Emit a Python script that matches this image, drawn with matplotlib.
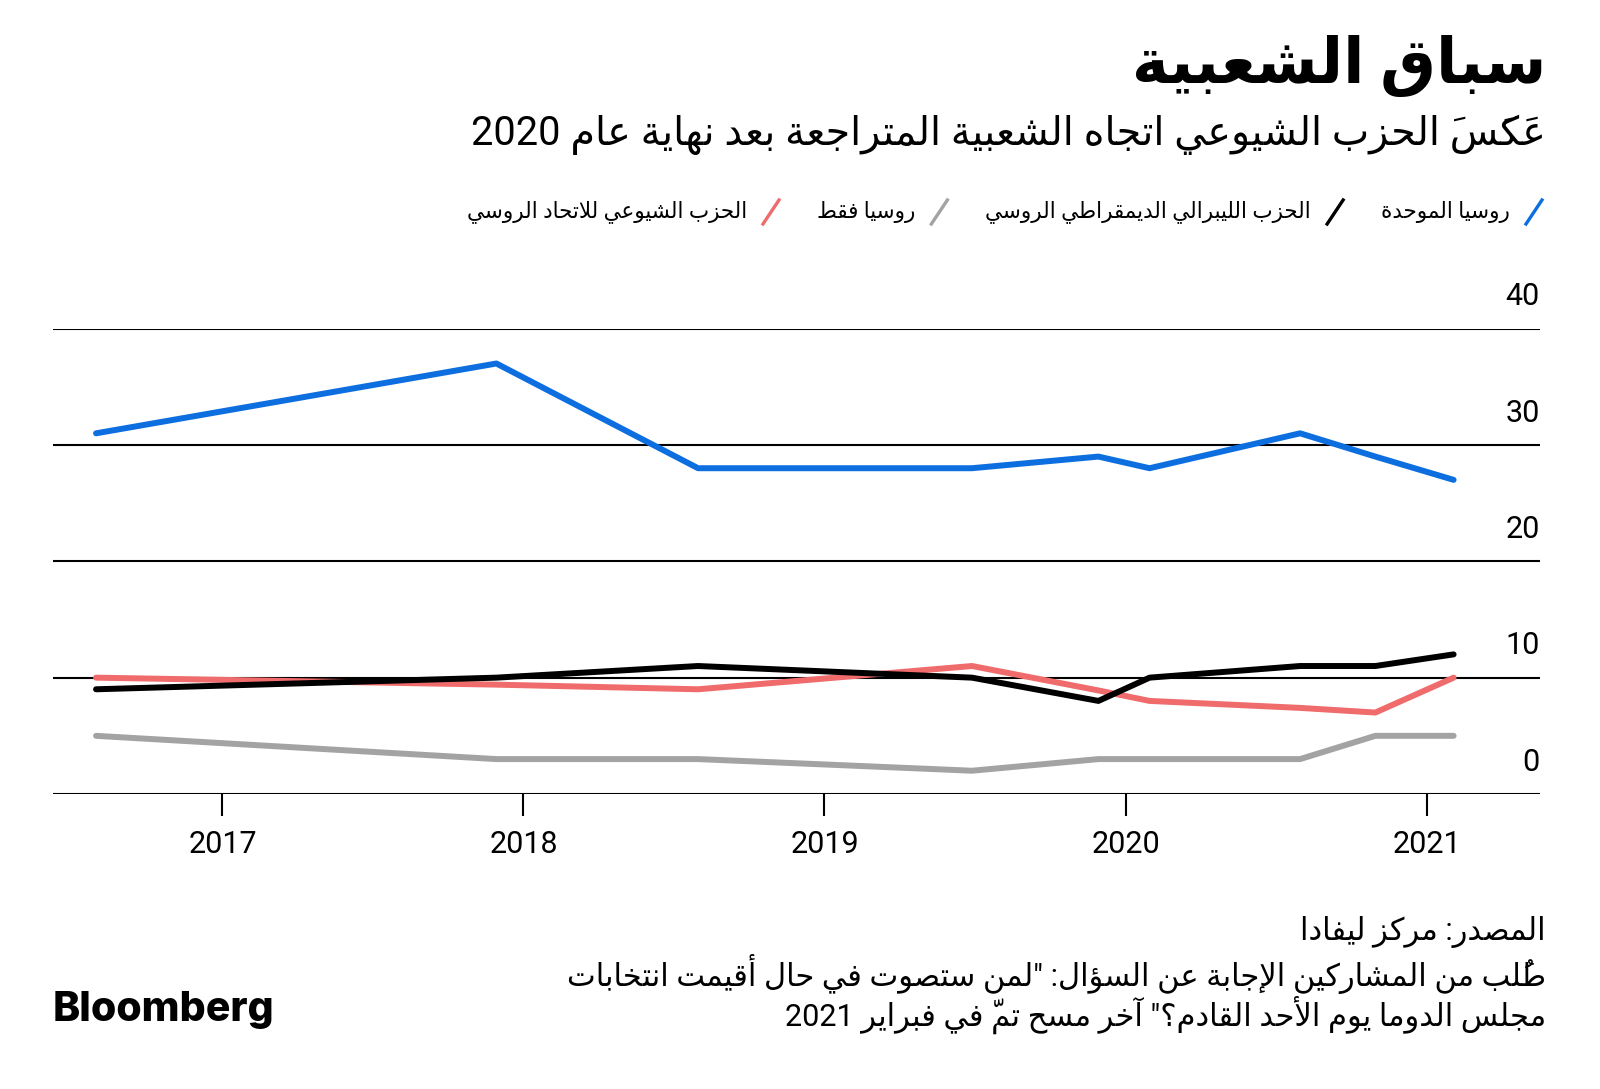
import unicodedata

import matplotlib
matplotlib.use("Agg")
import matplotlib.pyplot as plt
from matplotlib.lines import Line2D

plt.rcParams["font.family"] = ["Roboto", "DejaVu Sans"]

# survey dates (decimal years) and party shares, %
dates = [2016.58, 2017.91, 2018.58, 2019.49, 2019.91, 2020.08, 2020.58, 2020.83, 2021.09]
united_russia = [31, 37, 28, 28, 29, 28, 31, 29, 27]
ldpr = [9, 10, 11, 10, 8, 10, 11, 11, 12]
just_russia = [5, 3, 3, 2, 3, 3, 3, 5, 5]
kprf = [10, 9.4, 9, 11, 8.9, 8, 7.4, 7, 10]

year_ticks = [2017, 2018, 2019, 2020, 2021]
year_labels = ["2017", "2018", "2019", "2020", "2021"]
y_ticks = [0, 10, 20, 30, 40]

title = "سباق الشعبية"
subtitle = "عَكَسَ الحزب الشيوعي اتجاه الشعبية المتراجعة بعد نهاية عام 2020"
legend_items = [
    ("روسيا الموحدة", "#0d6fdf"),
    ("الحزب الليبرالي الديمقراطي الروسي", "#000000"),
    ("روسيا فقط", "#a3a3a3"),
    ("الحزب الشيوعي للاتحاد الروسي", "#f06b6b"),
]
footer = [
    "المصدر: مركز ليفادا",
    "طُلب من المشاركين الإجابة عن السؤال: \"لمن ستصوت في حال أقيمت انتخابات",
    "مجلس الدوما يوم الأحد القادم؟\" آخر مسح تمّ في فبراير 2021",
]


# --- minimal arabic shaping + right-to-left ordering (matplotlib has none) ---
LAM_ALEF = {
    "\u0627": "ARABIC LIGATURE LAM WITH ALEF",
    "\u0623": "ARABIC LIGATURE LAM WITH ALEF WITH HAMZA ABOVE",
    "\u0625": "ARABIC LIGATURE LAM WITH ALEF WITH HAMZA BELOW",
    "\u0622": "ARABIC LIGATURE LAM WITH ALEF WITH MADDA ABOVE",
}


def _pres(name, form):
    try:
        return unicodedata.lookup(f"{name} {form} FORM")
    except KeyError:
        return None


def ar(text):
    units = []
    for ch in text:
        if unicodedata.category(ch) == "Mn" and units:
            units[-1][2] += ch
            continue
        if ch in LAM_ALEF and units and units[-1][1] == "\u0644":
            units[-1] = [LAM_ALEF[ch], ch, units[-1][2]]
            continue
        name = unicodedata.name(ch, "") if "\u0600" <= ch <= "\u06ff" else None
        units.append([name, ch, ""])

    types = []
    for name, ch, marks in units:
        if name and _pres(name, "INITIAL"):
            types.append("D")
        elif name and _pres(name, "FINAL"):
            types.append("R")
        else:
            types.append("U")

    clusters = []
    for i, (name, ch, marks) in enumerate(units):
        t = types[i]
        if t == "U":
            clusters.append(marks + ch)
            continue
        prev = i > 0 and types[i - 1] == "D"
        nxt = t == "D" and i + 1 < len(units) and types[i + 1] in "DR"
        form = {(True, True): "MEDIAL", (True, False): "FINAL",
                (False, True): "INITIAL", (False, False): "ISOLATED"}[(prev, nxt)]
        # marks go first: matplotlib draws them at the pen position over the next glyph
        clusters.append(marks + _pres(name, form))

    runs = []
    for c in clusters:
        ltr = c[-1].isascii() and c[-1].isalnum()
        if ltr and runs and runs[-1][0]:
            runs[-1][1].append(c)
        else:
            runs.append([ltr, [c]])
    return "".join("".join(r[1]) for r in reversed(runs))


W, H = 1600, 1089
fig = plt.figure(figsize=(W / 100, H / 100), dpi=100)
fig.patch.set_facecolor("white")

ax = fig.add_axes([53 / W, 1 - 794 / H, (1540 - 53) / W, (794 - 328.6) / H])
ax.set_xlim(2016.437, 2021.377)
ax.set_ylim(0, 40)
for s in ax.spines.values():
    s.set_visible(False)

for v in y_ticks:
    ax.axhline(v, color="black", lw=1.5, zorder=1)
    ax.annotate(str(v), xy=(1, v), xycoords=("axes fraction", "data"),
                xytext=(0, 23), textcoords="offset points",
                ha="right", va="center", fontsize=22, annotation_clip=False)

style = dict(lw=4.3, solid_capstyle="round", solid_joinstyle="round")
ax.plot(dates, just_russia, color=legend_items[2][1], zorder=3, **style)
ax.plot(dates, kprf, color=legend_items[3][1], zorder=3, **style)
ax.plot(dates, ldpr, color=legend_items[1][1], zorder=4, **style)
ax.plot(dates, united_russia, color=legend_items[0][1], zorder=5, **style)

ax.set_yticks([])
ax.set_xticks(year_ticks)
ax.set_xticklabels(year_labels, fontsize=22)
ax.tick_params(axis="x", direction="out", length=16, width=1.5, pad=10)

# titles
fig.text(1546 / W, 1 - 66 / H, ar(title), ha="right", va="center",
         fontsize=45, fontweight="bold")
fig.text(1546 / W, 1 - 135 / H, ar(subtitle), ha="right", va="center", fontsize=28.5)

# legend, laid out right to left
renderer = fig.canvas.get_renderer()
x = 1534
ly = 212
for label, color in legend_items:
    fig.add_artist(Line2D([(x - 8) / W, (x + 8) / W], [1 - (ly + 12) / H, 1 - (ly - 12) / H],
                          transform=fig.transFigure, color=color, lw=2.4))
    t = fig.text((x - 24) / W, 1 - ly / H, ar(label), ha="right", va="center", fontsize=15.5)
    w = t.get_window_extent(renderer).width
    x = x - 24 - w - 46

# footer
for line, yc in zip(footer, [932, 974, 1015]):
    fig.text(1546 / W, 1 - yc / H, ar(line), ha="right", va="center", fontsize=22)

fig.text(53 / W, 1 - 1010 / H, "Bloomberg", ha="left", va="center",
         fontsize=29.5, fontweight="heavy", family="Inter", color="black")

fig.savefig("out.png", dpi=100)
